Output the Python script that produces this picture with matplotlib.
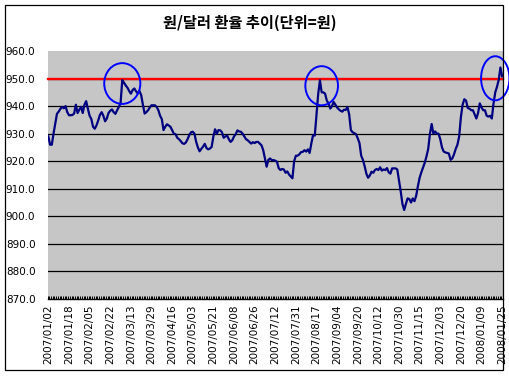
import matplotlib
matplotlib.use("Agg")
import matplotlib.pyplot as plt
from matplotlib.patches import Ellipse, Rectangle
import numpy as np

title = "원/달러 환율 추이(단위=원)"

rates = [
    929.0, 926.0, 926.0, 930.0, 933.5, 937.2, 938.0, 939.0, 939.7, 939.2,
    940.0, 937.8, 936.7, 936.7, 936.8, 937.3, 940.5, 937.5, 938.7, 939.7,
    937.5, 940.5, 941.8, 939.0, 936.5, 935.3, 932.5, 931.8, 933.0, 934.8,
    936.8, 937.8, 936.5, 934.5, 935.5, 937.5, 938.3, 938.8, 937.8, 937.2,
    938.5, 939.7, 941.0, 949.4, 948.5, 947.5, 946.7, 945.5, 944.5, 945.8,
    946.4, 945.4, 944.6, 945.5, 944.0, 940.5, 937.3, 937.8, 938.5, 939.5,
    940.3, 940.3, 940.3, 939.7, 938.5, 936.5, 935.3, 931.3, 932.5, 933.4,
    933.0, 932.5, 931.3, 930.0, 929.8, 928.5, 928.0, 927.3, 926.5, 926.3,
    926.8, 928.0, 929.5, 930.5, 930.7, 930.0, 927.0, 925.0, 923.6, 924.5,
    925.3, 926.3, 924.8, 924.3, 924.6, 925.2, 929.0, 931.6, 930.0, 931.3,
    931.2, 930.5, 928.5, 929.0, 929.3, 928.0, 927.0, 927.6, 929.0, 929.8,
    931.2, 930.8, 930.7, 930.0, 929.0, 928.0, 927.6, 927.0, 926.4, 926.9,
    926.6, 927.0, 927.0, 926.4, 925.8, 924.0, 921.0, 918.0, 920.5, 921.0,
    920.4, 920.4, 920.2, 919.8, 917.5, 916.8, 917.2, 917.0, 915.8, 916.3,
    915.2, 914.5, 913.8, 920.0, 922.0, 922.0, 922.5, 923.3, 923.4, 924.0,
    923.5, 924.3, 923.0, 926.5, 929.5, 929.3, 937.0, 944.5, 949.4, 945.0,
    945.0, 944.5, 942.0, 941.0, 939.1, 940.0, 941.5, 940.5, 939.5, 938.8,
    938.3, 938.0, 938.7, 938.6, 939.7, 937.0, 931.3, 930.5, 930.2, 929.8,
    928.3, 926.6, 922.0, 920.5, 918.2, 915.5, 914.0, 914.8, 916.2, 915.8,
    916.8, 917.2, 916.8, 917.8, 916.6, 917.0, 916.8, 917.5, 916.0, 915.5,
    917.4, 917.4, 917.4, 917.0, 913.0, 909.0, 904.5, 902.3, 904.5, 906.5,
    906.3, 905.0, 906.5, 905.5, 907.5, 911.0, 914.0, 916.0, 917.8, 919.5,
    921.8, 924.5, 930.0, 933.5, 930.0, 930.8, 930.0, 930.0, 928.0, 925.0,
    923.5, 923.2, 923.0, 922.8, 920.5, 921.0, 922.5, 924.5, 926.0, 929.0,
    936.0, 940.5, 942.5, 942.0, 939.3, 939.1, 938.5, 938.5, 937.0, 935.5,
    937.5, 941.0, 939.5, 938.5, 938.5, 936.5, 936.2, 936.5, 935.5, 941.0,
    945.0, 947.0, 949.5, 954.0, 950.8,
]

date_labels = [
    "2007/01/02", "2007/01/18", "2007/02/05", "2007/02/22", "2007/03/13",
    "2007/03/29", "2007/04/16", "2007/05/03", "2007/05/21", "2007/06/08",
    "2007/06/26", "2007/07/12", "2007/07/31", "2007/08/17", "2007/09/04",
    "2007/09/20", "2007/10/12", "2007/10/30", "2007/11/15", "2007/12/03",
    "2007/12/20", "2008/01/09", "2008/01/25",
]
label_step = 12

reference_level = 950
y_ticks = [870, 880, 890, 900, 910, 920, 930, 940, 950, 960]

highlight_index = [43, 159, 260]
highlight_level = [948.2, 947.4, 950.1]

W, H = 509, 376
fig = plt.figure(figsize=(W / 100, H / 100), dpi=100)
fig.patch.set_facecolor("white")

# outer border
fig.patches.append(Rectangle((5 / W, 1 - 370 / H), 498 / W, 365 / H,
                             transform=fig.transFigure, fill=False,
                             edgecolor="black", linewidth=0.9))

ax = fig.add_axes([47.5 / W, 1 - 299 / H, (503 - 47.5) / W, (299 - 51) / H])
ax.set_facecolor("#c6c6c6")

x = np.arange(len(rates))
ax.set_xlim(-0.5, len(rates) - 0.5)
ax.set_ylim(y_ticks[0], y_ticks[-1])

for yv in y_ticks[1:-1]:
    ax.axhline(yv, color="black", linewidth=0.9, zorder=1)

ax.axhline(reference_level, color="#ff0000", linewidth=1.7, zorder=2, clip_on=False)
ax.plot(x, rates, color="#000080", linewidth=1.6, zorder=3)

ell_w = [21.0, 19.0, 16.5]
ell_h = [14.8, 14.2, 16.0]
for xi, yl, w, h in zip(highlight_index, highlight_level, ell_w, ell_h):
    e = Ellipse((xi, yl), width=w, height=h, fill=False,
                edgecolor="#0000ff", linewidth=1.4, zorder=4, clip_on=False)
    ax.add_patch(e)

for s in ["top", "right", "left"]:
    ax.spines[s].set_visible(False)
ax.spines["bottom"].set_color("black")
ax.spines["bottom"].set_linewidth(1.0)

ax.set_yticks(y_ticks)
ax.set_yticklabels([f"{v:.1f}" for v in y_ticks])
ax.tick_params(axis="y", length=0, pad=30, labelsize=7.5)
for lab in ax.get_yticklabels():
    lab.set_horizontalalignment("left")

ticks = x[::label_step]
ax.set_xticks(ticks)
ax.set_xticklabels(date_labels[:len(ticks)], rotation=90)
ax.set_xticks(np.arange(len(rates) + 1) - 0.5, minor=True)
ax.tick_params(axis="x", which="major", length=0, pad=4, labelsize=7.5)
ax.tick_params(axis="x", which="minor", length=2.5, width=0.7, direction="in", color="black")

fig.text(250 / W, 1 - 22.5 / H, title, ha="center", va="center",
         fontsize=11, fontweight="bold",
         family=["Noto Sans CJK KR", "DejaVu Sans"])

fig.savefig("out.png", dpi=100)
